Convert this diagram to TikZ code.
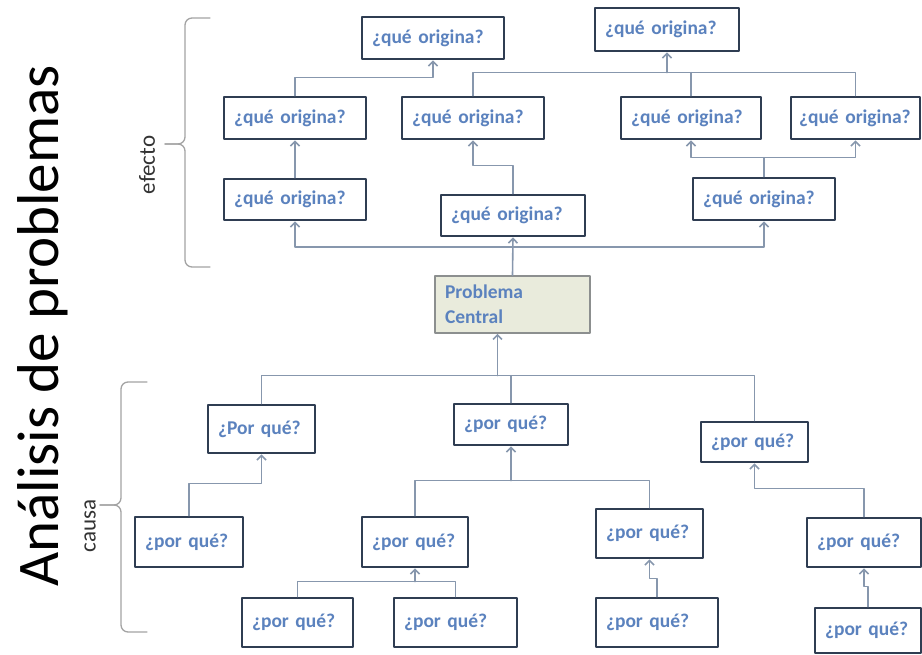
\documentclass[tikz,border=0pt]{standalone}
\usepackage{fontspec}
\setmainfont{Carlito}
\usetikzlibrary{arrows.meta}
\definecolor{boxline}{HTML}{2F3D52}
\definecolor{qtext}{HTML}{5B82BE}
\definecolor{connline}{HTML}{8797AD}
\definecolor{pcfill}{HTML}{E9EBDC}
\definecolor{pcline}{HTML}{8C8F8F}
\definecolor{braceline}{HTML}{A3A3A3}

\begin{document}
\begin{tikzpicture}[x=1pt,y=-1pt,line cap=round,line join=round,
  >={Straight Barb[length=4.5pt,width=9pt]},
  qbox/.style 2 args={draw=boxline,line width=2.8pt,fill=white,text=qtext,
    font=\bfseries\fontsize{19.5}{22}\selectfont,align=left,inner xsep=10pt,
    inner ysep=0pt,text width=#1,minimum height=#2},
  pbox/.style={draw=pcline,line width=1.6pt,fill=pcfill,text=qtext,
    font=\bfseries\fontsize{19.5}{25}\selectfont,align=left,inner xsep=10pt,
    text width=135pt,minimum height=57pt},
  conn/.style={draw=connline,line width=1.6pt},
  brace/.style={draw=braceline,line width=1.3pt,rounded corners=7pt},
  side/.style={rotate=90,text=black!80,font=\fontsize{23}{25}\selectfont}]
  \useasboundingbox (0,0) rectangle (922,654);
  \node[rotate=90,font=\fontsize{59}{62}\selectfont] (title) at (43,326) {Análisis de problemas};
  % efecto
  \node[qbox={122pt}{42pt}] (a1) at (433,38) {¿qué origina?};
  \node[qbox={124pt}{43pt}] (a2) at (667,29.5) {¿qué origina?};
  \node[qbox={122pt}{42pt}] (b1) at (295,118) {¿qué origina?};
  \node[qbox={122pt}{42pt}] (b2) at (473,118) {¿qué origina?};
  \node[qbox={120pt}{42pt}] (b3) at (691,118) {¿qué origina?};
  \node[qbox={113pt}{42pt},inner xsep=8pt] (b4) at (855.5,118) {¿qué origina?};
  \node[qbox={122pt}{41pt}] (c1) at (295,199.5) {¿qué origina?};
  \node[qbox={124pt}{41pt}] (c2) at (513,215.5) {¿qué origina?};
  \node[qbox={122pt}{42pt}] (c3) at (764,199) {¿qué origina?};
  \node[pbox] (pc) at (512.5,304.5) {Problema\\Central};
  % causa
  \node[qbox={87pt}{48pt}] (d1) at (261.5,429) {¿Por qué?};
  \node[qbox={94pt}{41pt}] (d2) at (511,424.5) {¿por qué?};
  \node[qbox={87pt}{40pt}] (d3) at (754.5,442) {¿por qué?};
  \node[qbox={88pt}{50pt}] (e1) at (189,542) {¿por qué?};
  \node[qbox={86pt}{50pt}] (e2) at (415,542) {¿por qué?};
  \node[qbox={87pt}{49pt}] (e3) at (649.5,533.5) {¿por qué?};
  \node[qbox={94pt}{49pt}] (e4) at (864,542.5) {¿por qué?};
  \node[qbox={91pt}{49pt}] (f1) at (297.5,622.5) {¿por qué?};
  \node[qbox={103pt}{49pt}] (f2) at (455.5,622.5) {¿por qué?};
  \node[qbox={102pt}{49pt}] (f3) at (657,622.5) {¿por qué?};
  \node[qbox={86pt}{45pt}] (f4) at (868,630.5) {¿por qué?};
  % connectors, top
  \draw[conn,->] (c1.north) -- (b1.south);
  \draw[conn,->] (b1.north) -- ++(0,-18) -| (a1.south);
  \draw[conn,->] (c2.north) -- ++(0,-28) -| (b2.south);
  \draw[conn] (b2.north) -- ++(0,-23) coordinate (ta) -| (b4.north);
  \draw[conn] (b3.north) -- (b3.north |- ta);
  \draw[conn,->] (a2.south |- ta) -- (a2.south);
  \draw[conn] (c3.north) -- ++(0,-19) coordinate (tb);
  \draw[conn,->] (tb) -| (b3.south);
  \draw[conn,->] (tb) -| (b4.south);
  \draw[conn,->] (pc.north) -- (c2.south);
  \draw[conn] (pc.north) -- ++(0,-28) coordinate (tc);
  \draw[conn,->] (tc) -| (c1.south);
  \draw[conn,->] (tc) -| (c3.south);
  % connectors, bottom
  \draw[conn] (d1.north) -- ++(0,-28) coordinate (td) -| (d3.north);
  \draw[conn] (d2.north) -- (d2.north |- td);
  \draw[conn,->] ([xshift=-15pt]pc.south |- td) -- ([xshift=-15pt]pc.south);
  \draw[conn,->] (e1.north) -- ++(0,-32) -| (d1.south);
  \draw[conn] (e2.north) -- ++(0,-35) coordinate (te) -| (e3.north);
  \draw[conn,->] (d2.south |- te) -- (d2.south);
  \draw[conn,->] (e4.north) -- ++(0,-28) -| (d3.south);
  \draw[conn] (f1.north) -- ++(0,-15) coordinate (tf) -| (f2.north);
  \draw[conn,->] (e2.south |- tf) -- (e2.south);
  \draw[conn,->] (f3.north) -- ++(0,-18) -| (e3.south);
  \draw[conn,->] (f4.north) -- ++(0,-20) -| (e4.south);
  % braces
  \coordinate (efectotip) at (165,144);
  \coordinate (causatip) at (100,505);
  \draw[brace] (210,18) -| (185,144) -- (efectotip);
  \draw[brace] (efectotip) -- (185,144) |- (210,267);
  \draw[brace] (147,382) -| (121,505) -- (causatip);
  \draw[brace] (causatip) -- (121,505) |- (147,632);
  \node[side] (efecto) at (147,165) {efecto};
  \node[side] (causa) at (90,526) {causa};
\end{tikzpicture}
\end{document}
